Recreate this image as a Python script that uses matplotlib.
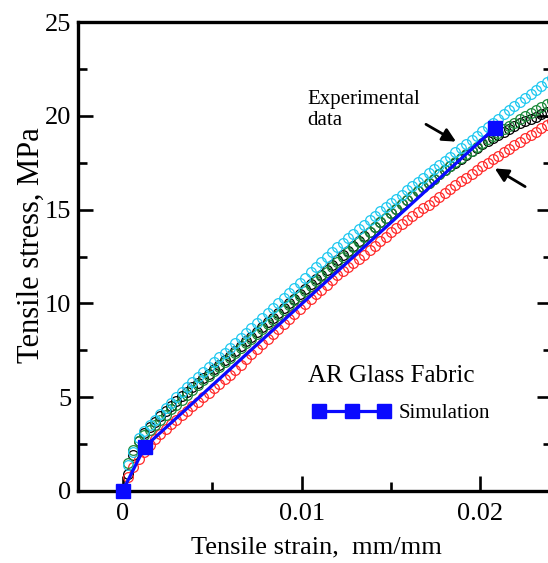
import matplotlib
matplotlib.use('Agg')
import matplotlib.pyplot as plt
from matplotlib.ticker import MultipleLocator

plt.rcParams['font.family'] = ['Liberation Serif', 'DejaVu Serif']

# strain readings (mm/mm), shared by the four test specimens
strain = [0.0, 0.0003, 0.0006, 0.0009, 0.0012, 0.0015, 0.0018, 0.0021, 0.0024, 0.0027,
          0.0030, 0.0033, 0.0036, 0.0039, 0.0042, 0.0045, 0.0048, 0.0051, 0.0054, 0.0057,
          0.0060, 0.0063, 0.0066, 0.0069, 0.0072, 0.0075, 0.0078, 0.0081, 0.0084, 0.0087,
          0.0090, 0.0093, 0.0096, 0.0099, 0.0102, 0.0105, 0.0108, 0.0111, 0.0114, 0.0117,
          0.0120, 0.0123, 0.0126, 0.0129, 0.0132, 0.0135, 0.0138, 0.0141, 0.0144, 0.0147,
          0.0150, 0.0153, 0.0156, 0.0159, 0.0162, 0.0165, 0.0168, 0.0171, 0.0174, 0.0177,
          0.0180, 0.0183, 0.0186, 0.0189, 0.0192, 0.0195, 0.0198, 0.0201, 0.0204, 0.0207,
          0.0210, 0.0213, 0.0216, 0.0219, 0.0222, 0.0225, 0.0228, 0.0231, 0.0234, 0.0237,
          0.0240]

# stress readings (MPa)
stress_black = [0.0, 0.9, 1.9, 2.65, 3.1, 3.4, 3.7, 4.0, 4.26, 4.53,
                4.8, 5.04, 5.28, 5.52, 5.76, 6.0, 6.24, 6.48, 6.72, 6.96,
                7.2, 7.46, 7.71, 7.97, 8.22, 8.48, 8.73, 8.99, 9.24, 9.5,
                9.75, 10.01, 10.26, 10.52, 10.77, 11.03, 11.28, 11.54, 11.79, 12.05,
                12.3, 12.56, 12.81, 13.07, 13.32, 13.58, 13.83, 14.08, 14.32, 14.56,
                14.8, 15.04, 15.28, 15.52, 15.75, 15.98, 16.2, 16.43, 16.65, 16.88,
                17.1, 17.3, 17.51, 17.71, 17.91, 18.11, 18.31, 18.5, 18.66, 18.82,
                18.97, 19.13, 19.29, 19.45, 19.6, 19.72, 19.84, 19.96, 20.08, 20.2,
                20.3]

stress_red = [0.0, 0.75, 1.3, 1.7, 2.1, 2.45, 2.75, 3.05, 3.3, 3.55,
              3.8, 4.04, 4.28, 4.52, 4.76, 5.0, 5.24, 5.48, 5.72, 5.96,
              6.2, 6.47, 6.74, 7.01, 7.28, 7.55, 7.82, 8.09, 8.36, 8.63,
              8.9, 9.17, 9.44, 9.71, 9.97, 10.23, 10.48, 10.74, 10.99, 11.25,
              11.5, 11.72, 11.94, 12.16, 12.38, 12.6, 12.84, 13.08, 13.32, 13.56,
              13.8, 14.01, 14.22, 14.43, 14.64, 14.85, 15.06, 15.27, 15.48, 15.69,
              15.9, 16.1, 16.31, 16.51, 16.71, 16.91, 17.12, 17.31, 17.5, 17.69,
              17.88, 18.06, 18.25, 18.44, 18.62, 18.8, 18.98, 19.16, 19.34, 19.52,
              19.7]

stress_green = [0.0, 1.5, 2.2, 2.65, 3.0, 3.25, 3.5, 3.8, 4.05, 4.35,
                4.6, 4.87, 5.14, 5.41, 5.66, 5.9, 6.14, 6.38, 6.62, 6.86,
                7.1, 7.36, 7.61, 7.87, 8.12, 8.38, 8.63, 8.89, 9.14, 9.4,
                9.65, 9.91, 10.16, 10.42, 10.67, 10.93, 11.18, 11.44, 11.69, 11.95,
                12.2, 12.47, 12.74, 13.01, 13.28, 13.55, 13.82, 14.08, 14.32, 14.56,
                14.8, 15.04, 15.28, 15.52, 15.75, 15.98, 16.2, 16.43, 16.65, 16.88,
                17.1, 17.31, 17.52, 17.73, 17.94, 18.15, 18.36, 18.56, 18.74, 18.92,
                19.1, 19.28, 19.46, 19.64, 19.81, 19.98, 20.14, 20.31, 20.47, 20.64,
                20.8]

stress_cyan = [0.0, 1.4, 2.1, 2.8, 3.2, 3.5, 3.8, 4.1, 4.4, 4.7,
               5.0, 5.27, 5.54, 5.81, 6.08, 6.35, 6.62, 6.88, 7.12, 7.36,
               7.6, 7.87, 8.14, 8.41, 8.68, 8.95, 9.22, 9.49, 9.76, 10.03,
               10.3, 10.57, 10.84, 11.11, 11.38, 11.65, 11.92, 12.19, 12.46, 12.73,
               13.0, 13.24, 13.48, 13.72, 13.96, 14.2, 14.44, 14.68, 14.9, 15.13,
               15.35, 15.58, 15.8, 16.03, 16.25, 16.48, 16.7, 16.93, 17.15, 17.38,
               17.6, 17.83, 18.05, 18.28, 18.5, 18.73, 18.95, 19.18, 19.4, 19.63,
               19.85, 20.08, 20.3, 20.53, 20.74, 20.95, 21.16, 21.37, 21.58, 21.79,
               22.0]

sim_strain = [0.0, 0.00123, 0.0208]
sim_stress = [0.0, 2.35, 19.35]

xticks = [0.0, 0.01, 0.02]
xtick_labels = ['0', '0.01', '0.02']
yticks = [0, 5, 10, 15, 20, 25]

fig = plt.figure(figsize=(5.48, 5.63), dpi=100)
ax = fig.add_axes([0.1423, 0.1279, 0.865, 0.833])

circ = dict(linestyle='none', marker='o', markersize=7, markerfacecolor='none',
            markeredgewidth=0.9, clip_on=False)
ax.plot(strain, stress_black, markeredgecolor='black', **circ)
ax.plot(strain, stress_red, markeredgecolor='#ff2a2a', **circ)
ax.plot(strain, stress_green, markeredgecolor='#1a8a3a', **circ)
ax.plot(strain, stress_cyan, markeredgecolor='#1ec8f0', **circ)
ax.plot(sim_strain, sim_stress, color='#0a0aff', lw=2.3, marker='s', markersize=9.5,
        label='Simulation', clip_on=False, zorder=5)

ax.set_xlim(-0.0025, 0.024)
ax.set_ylim(0, 25)
ax.set_xticks(xticks)
ax.set_xticklabels(xtick_labels)
ax.set_yticks(yticks)
ax.xaxis.set_minor_locator(MultipleLocator(0.005))
ax.yaxis.set_minor_locator(MultipleLocator(2.5))
ax.tick_params(which='both', direction='in', top=False, right=True, width=1.9)
ax.tick_params(which='major', length=11, labelsize=19)
ax.tick_params(which='minor', length=6.5)
ax.tick_params(axis='x', pad=9)
ax.tick_params(axis='y', pad=5)
for s in ax.spines.values():
    s.set_linewidth(2.4)

ax.set_xlabel('Tensile strain,  mm/mm', fontsize=19, va='top')
ax.xaxis.set_label_coords(0.502, -0.098)
ax.set_ylabel('Tensile stress, MPa', fontsize=22)
ax.yaxis.set_label_coords(-0.068, 0.525)

ax.text(0.01034, 21.4, 'Experimental\ndata', fontsize=15, ha='left', va='top', linespacing=1.2)
ax.annotate('', xy=(0.01877, 18.55), xytext=(0.01682, 19.62),
            arrowprops=dict(arrowstyle='-|>', color='black', lw=2, mutation_scale=20))
ax.annotate('', xy=(0.02067, 17.27), xytext=(0.02263, 16.15), annotation_clip=False,
            arrowprops=dict(arrowstyle='-|>', color='black', lw=2, mutation_scale=20))

ax.text(0.01034, 5.81, 'AR Glass Fabric', fontsize=18, ha='left', va='baseline')
ax.legend(loc='center left', bbox_to_anchor=(0.496, 0.166), frameon=False, fontsize=15,
          numpoints=3, handlelength=3.7, handletextpad=0.4, borderpad=0, borderaxespad=0)

fig.savefig('out.png', dpi=100)
